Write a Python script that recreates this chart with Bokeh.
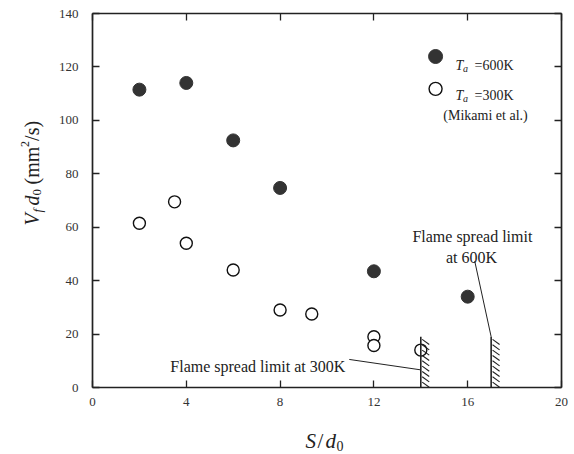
import numpy as np
from math import pi
from bokeh.plotting import figure
from bokeh.models import Range1d, LinearAxis, FixedTicker, Label
from bokeh.embed import file_html
from bokeh.resources import INLINE

# ---------------- data ----------------
s_d0_600 = [2, 4, 6, 8, 12, 16]
vf_d0_600 = [111.5, 114, 92.5, 74.7, 43.5, 34]
s_d0_300 = [2, 3.5, 4, 6, 8, 9.35, 12, 12, 14]
vf_d0_300 = [61.5, 69.5, 54, 44, 29, 27.5, 19, 15.7, 14]
limit_s_d0 = [14, 17]          # flame spread limits (300 K, 600 K)
limit_height = [19, 19]
x_ticks = [0, 4, 8, 12, 16, 20]
y_ticks = [0, 20, 40, 60, 80, 100, 120, 140]
X_MIN, X_MAX = 0, 20
Y_MIN, Y_MAX = 0, 140

FONT = "Liberation Serif"
INK = "#222222"

# the frame fills the whole canvas; the axes are fixed at the data box edges
W, H = 574, 454
LEFT, RIGHT, TOP, BOTTOM = 92, 561, 13, 387
kx = (RIGHT - LEFT) / (X_MAX - X_MIN)
ky = (BOTTOM - TOP) / (Y_MAX - Y_MIN)
x_range = Range1d(X_MIN - LEFT / kx, X_MAX + (W - RIGHT) / kx)
y_range = Range1d(Y_MIN - (H - BOTTOM) / ky, Y_MAX + TOP / ky)

p = figure(width=W, height=H, x_range=x_range, y_range=y_range,
           output_backend="svg", toolbar_location=None, min_border=0,
           x_axis_type=None, y_axis_type=None)
p.grid.visible = False
p.outline_line_color = None
p.background_fill_color = "white"
p.border_fill_color = "white"


def make_axis(place, ticks, bounds, loc, show_labels, standoff=0):
    ax = LinearAxis(ticker=FixedTicker(ticks=ticks), bounds=bounds, fixed_location=loc)
    ax.axis_line_color = INK
    ax.axis_line_width = 1.7
    ax.major_tick_line_color = INK
    ax.major_tick_line_width = 1.3
    ax.major_tick_in = 7
    ax.major_tick_out = 0
    ax.minor_tick_line_color = None
    ax.major_label_standoff = standoff
    ax.major_label_text_font = FONT
    ax.major_label_text_font_size = "13px"
    ax.major_label_text_color = "#333333" if show_labels else None
    p.add_layout(ax, place)
    return ax


make_axis("below", x_ticks, (X_MIN, X_MAX), Y_MIN, True, 10)
make_axis("left", y_ticks, (Y_MIN, Y_MAX), X_MIN, True, 14)
make_axis("above", x_ticks, (X_MIN, X_MAX), Y_MAX, False)
make_axis("right", y_ticks, (Y_MIN, Y_MAX), X_MAX, False)

# ---------------- data marks ----------------
p.scatter(s_d0_600, vf_d0_600, size=13, fill_color="#333333", line_color="#333333")
p.scatter(s_d0_300, vf_d0_300, size=12, fill_color="white", line_color="#111111", line_width=1.4)

# flame spread limit markers with hatching
p.segment(x0=limit_s_d0, y0=[0] * len(limit_s_d0), x1=limit_s_d0, y1=limit_height,
          line_color=INK, line_width=1.6)
hx0, hy0, hx1, hy1 = [], [], [], []
for lx, lh in zip(limit_s_d0, limit_height):
    for yt in np.arange(lh - 1.0, 1.0, -2.0):
        hx0.append(lx + 0.06); hy0.append(yt)
        hx1.append(lx + 0.36); hy1.append(yt - 1.9)
p.segment(hx0, hy0, hx1, hy1, line_color=INK, line_width=1.1)

# leader lines
p.line([10.95, limit_s_d0[0]], [10.5, 6.6], line_color=INK, line_width=1)
p.line([16.30, limit_s_d0[1]], [47.3, limit_height[1]], line_color=INK, line_width=1)


def lab(x, y, text, size, style="normal", align="left", angle=0.0, color=INK):
    p.add_layout(Label(x=x, y=y, text=text, text_font=FONT, text_font_size=size,
                       text_font_style=style, text_align=align, text_baseline="alphabetic",
                       angle=angle, text_color=color))


lab(7.05, 7.97, "Flame spread limit at 300K", "16px", align="center")
lab(16.20, 56.5, "Flame spread limit", "16px", align="center")
lab(16.16, 48.6, "at 600K", "16px", align="center")

# legend
p.scatter([14.63], [123.9], size=14, fill_color="#333333", line_color="#333333")
p.scatter([14.63], [111.8], size=13, fill_color="white", line_color="#111111", line_width=1.4)
lab(15.48, 120.55, "T", "14px", style="italic")
lab(15.80, 119.4, "a", "10px", style="italic")
lab(16.29, 120.55, "=600K", "14px")
lab(15.48, 109.3, "T", "14px", style="italic")
lab(15.80, 108.2, "a", "10px", style="italic")
lab(16.29, 109.3, "=300K", "14px")
lab(16.76, 101.8, "(Mikami et al.)", "14px", align="center")

# y axis title (rotated pieces)
R = pi / 2
lab(-2.56, 60.64, "V", "20px", style="italic", angle=R)
lab(-2.35, 65.51, "f", "13px", style="italic", angle=R)
lab(-2.56, 68.13, "d", "20px", style="italic", angle=R)
lab(-2.35, 71.87, "0", "13px", angle=R)
lab(-2.56, 76.0, "(mm", "20px", angle=R)
lab(-2.88, 90.0, "2", "12px", angle=R)
lab(-2.56, 92.3, "/s)", "20px", angle=R)

# x axis title
lab(9.08, -19.9, "S", "21px", style="italic")
lab(9.60, -19.9, "/", "21px")
lab(9.94, -19.9, "d", "21px", style="italic")
lab(10.40, -21.8, "0", "14px")

open("out.html", "w").write(file_html(p, INLINE))
